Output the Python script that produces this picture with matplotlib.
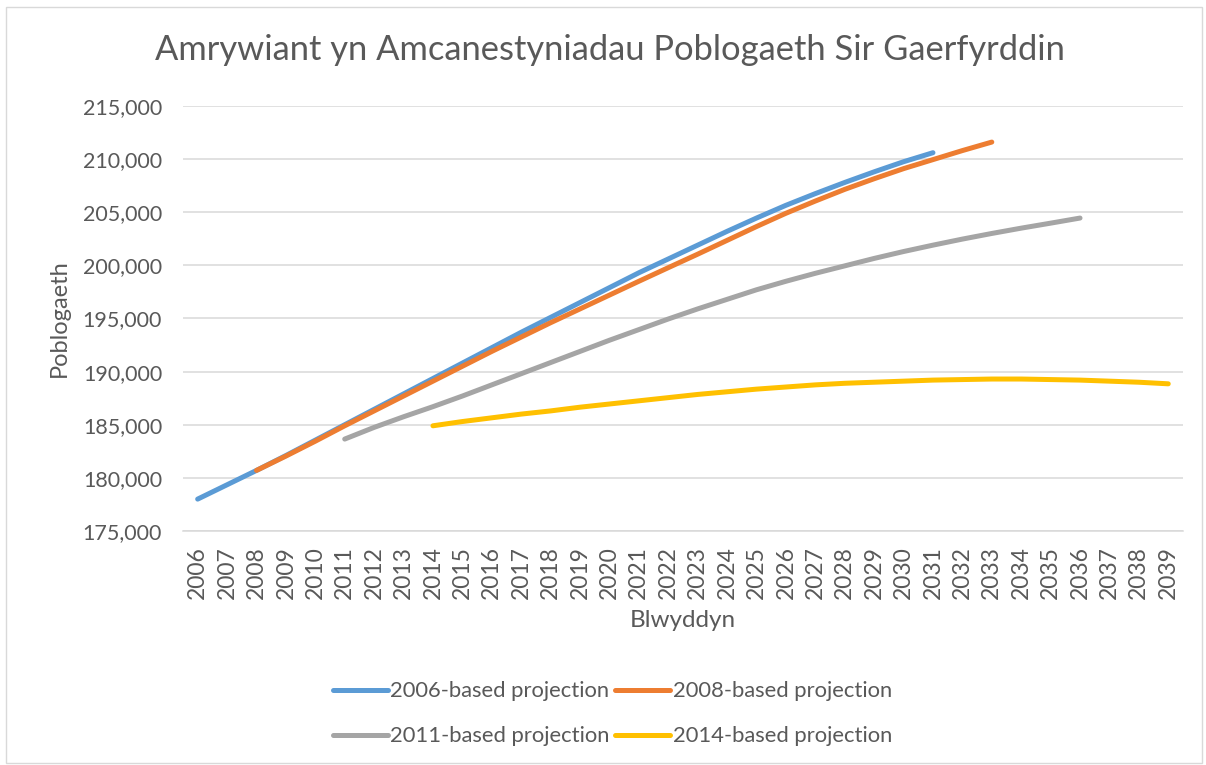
import matplotlib
matplotlib.use("Agg")
import matplotlib.pyplot as plt
from matplotlib.patches import Rectangle
from matplotlib.ticker import FuncFormatter, MultipleLocator

years = list(range(2006, 2040))

proj_2006 = [178000, 179350, 180700, 182100, 183550, 185000, 186450, 187900, 189350,
             190800, 192250, 193700, 195100, 196500, 197900, 199300, 200600, 201900,
             203200, 204450, 205650, 206750, 207800, 208800, 209750, 210600]
proj_2008 = [180700, 182050, 183450, 184900, 186300, 187700, 189100, 190500, 191900,
             193250, 194600, 195900, 197200, 198500, 199780, 201050, 202350, 203650,
             204900, 206050, 207150, 208150, 209100, 209950, 210800, 211600]
proj_2011 = [183650, 184750, 185750, 186700, 187700, 188750, 189800, 190850, 191900,
             192950, 193950, 194950, 195900, 196800, 197700, 198500, 199250, 199950,
             200650, 201300, 201900, 202470, 203000, 203500, 203970, 204450]
proj_2014 = [184900, 185300, 185650, 186000, 186300, 186650, 186950, 187250, 187550,
             187850, 188100, 188350, 188550, 188750, 188900, 189000, 189100, 189200,
             189250, 189300, 189300, 189250, 189200, 189100, 189000, 188850]

series = [
    ("2006-based projection", 2006, proj_2006, "#5B9BD5"),
    ("2008-based projection", 2008, proj_2008, "#ED7D31"),
    ("2011-based projection", 2011, proj_2011, "#A5A5A5"),
    ("2014-based projection", 2014, proj_2014, "#FFC000"),
]

plt.rcParams['font.family'] = ['Lato', 'DejaVu Sans']
txt = "#595959"

fig = plt.figure(figsize=(12.06, 7.65), dpi=100)
fig.patches.append(Rectangle((0.005, 0.003), 0.992, 0.988, transform=fig.transFigure,
                             fill=False, edgecolor="#D9D9D9", linewidth=1.0))
ax = fig.add_axes([0.1517, 0.3059, 0.8292, 0.5556])

handles = {}
for label, start, vals, color in series:
    idx = [years.index(start) + i for i in range(len(vals))]
    h, = ax.plot(idx, vals, color=color, linewidth=3.6, solid_capstyle="round",
                 solid_joinstyle="round", label=label)
    handles[label] = h

ax.set_xlim(-0.5, len(years) - 0.5)
ax.set_ylim(175000, 215000)
ax.yaxis.set_major_locator(MultipleLocator(5000))
ax.yaxis.set_major_formatter(FuncFormatter(lambda v, p: f"{int(v):,}"))
ax.set_xticks(range(len(years)))
ax.set_xticklabels([str(y) for y in years], rotation=90)
ax.grid(axis="y", color="#D9D9D9", linewidth=1.1)
ax.set_axisbelow(True)
for s in ["top", "right", "left"]:
    ax.spines[s].set_visible(False)
ax.spines["bottom"].set_color("#D9D9D9")
ax.spines["bottom"].set_linewidth(1.1)
ax.tick_params(axis="both", length=0, colors=txt)
ax.tick_params(axis="y", labelsize=15.5, pad=15)
ax.tick_params(axis="x", labelsize=16.5, pad=11)

ax.set_ylabel("Poblogaeth", fontsize=17, color=txt, labelpad=9)
ax.set_xlabel("Blwyddyn", fontsize=17.5, color=txt, labelpad=8)
fig.text(0.506, 0.935, "Amrywiant yn Amcanestyniadau Poblogaeth Sir Gaerfyrddin",
         ha="center", va="center", fontsize=24.8, color=txt)

order = ["2006-based projection", "2011-based projection",
         "2008-based projection", "2014-based projection"]
leg = fig.legend(handles=[handles[k] for k in order], loc="center",
                 bbox_to_anchor=(0.508, 0.067), ncol=2,
                 frameon=False, fontsize=15.8, handlelength=2.5, columnspacing=0.25,
                 handletextpad=0.1, labelspacing=1.14)
for t in leg.get_texts():
    t.set_color(txt)

fig.savefig("out.png", dpi=100)
